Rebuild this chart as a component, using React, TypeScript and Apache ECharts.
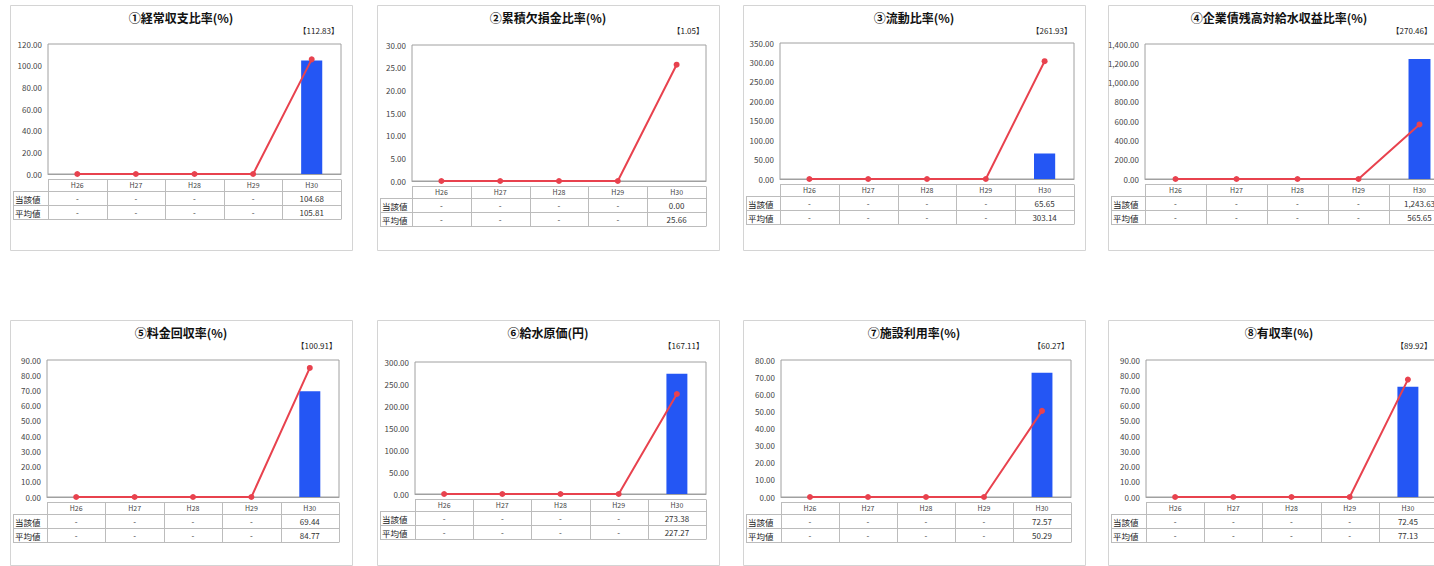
import React, { useEffect, useRef } from "react";
import * as echarts from "echarts";

// ---------- data ----------
const categories = ["H26", "H27", "H28", "H29", "H30"];
const rowLabels = ["当該値", "平均値"];
const titles = [
  "①経常収支比率(%)",
  "②累積欠損金比率(%)",
  "③流動比率(%)",
  "④企業債残高対給水収益比率(%)",
  "⑤料金回収率(%)",
  "⑥給水原価(円)",
  "⑦施設利用率(%)",
  "⑧有収率(%)",
];
const nationalAverages = ["【112.83】", "【1.05】", "【261.93】", "【270.46】", "【100.91】", "【167.11】", "【60.27】", "【89.92】"];

const current1 = [null, null, null, null, 104.68];
const average1 = [null, null, null, null, 105.81];
const current2 = [null, null, null, null, 0.0];
const average2 = [null, null, null, null, 25.66];
const current3 = [null, null, null, null, 65.65];
const average3 = [null, null, null, null, 303.14];
const current4 = [null, null, null, null, 1243.63];
const average4 = [null, null, null, null, 565.65];
const current5 = [null, null, null, null, 69.44];
const average5 = [null, null, null, null, 84.77];
const current6 = [null, null, null, null, 273.38];
const average6 = [null, null, null, null, 227.27];
const current7 = [null, null, null, null, 72.57];
const average7 = [null, null, null, null, 50.29];
const current8 = [null, null, null, null, 72.45];
const average8 = [null, null, null, null, 77.13];

const axisMax = [120, 30, 350, 1400, 90, 300, 80, 90];
const axisInterval = [20, 5, 50, 200, 10, 50, 10, 10];

const currents = [current1, current2, current3, current4, current5, current6, current7, current8];
const averages = [average1, average2, average3, average4, average5, average6, average7, average8];

// ---------- layout (absolute px) ----------
const layouts = [
  { px: 10, py: 5, gl: 48, gr: 341, gt: 44, gz: 174 },
  { px: 377, py: 5, gl: 412, gr: 706, gt: 45, gz: 181 },
  { px: 743, py: 5, gl: 780, gr: 1074, gt: 43, gz: 179 },
  { px: 1108, py: 5, gl: 1145, gr: 1450, gt: 44, gz: 179 },
  { px: 10, py: 320, gl: 47, gr: 339, gt: 360, gz: 497 },
  { px: 377, py: 320, gl: 415, gr: 706, gt: 362, gz: 494 },
  { px: 743, py: 320, gl: 781, gr: 1071, gt: 360, gz: 497 },
  { px: 1108, py: 320, gl: 1146, gr: 1437, gt: 360, gz: 497 },
];
const PAGE_W = 1434;
const PANEL_W = 342;
const PANEL_H = 245;
const FONT = '"Noto Sans CJK JP", "Noto Sans", sans-serif';
const BAR_COLOR = "#2456F4";
const LINE_COLOR = "#E8424E";

const fmt = (v: number | null) =>
  v === null || v === undefined
    ? "-"
    : v.toLocaleString("en-US", { minimumFractionDigits: 2, maximumFractionDigits: 2 });

function txt(x: number, y: number, text: string, size: number, align: string, opts: any = {}) {
  return {
    type: "text",
    x,
    y,
    silent: true,
    z: 10,
    style: {
      text,
      fill: opts.fill || "#333",
      fontSize: size,
      fontFamily: FONT,
      fontWeight: opts.bold ? "bold" : "normal",
      align,
      verticalAlign: "middle",
      textAlign: align,
      textVerticalAlign: "middle",
    },
  };
}

function line(x1: number, y1: number, x2: number, y2: number, color = "#bcbcbc") {
  return {
    type: "line",
    silent: true,
    z: 5,
    shape: { x1, y1, x2, y2 },
    style: { stroke: color, lineWidth: 1 },
  };
}

export default function App() {
  const ref = useRef<HTMLDivElement>(null);

  useEffect(() => {
    if (!ref.current) return;
    const chart = echarts.init(ref.current, undefined, { renderer: "svg" });

    const grids: any[] = [];
    const xAxes: any[] = [];
    const yAxes: any[] = [];
    const series: any[] = [];
    const graphics: any[] = [];

    layouts.forEach((L, i) => {
      grids.push({
        left: L.gl,
        top: L.gt,
        width: L.gr - L.gl,
        height: L.gz - L.gt,
        containLabel: false,
        outerBoundsMode: "none",
        show: true,
        borderColor: "#a0a0a0",
        borderWidth: 1,
        backgroundColor: "#ffffff",
        z: 1,
      });
      xAxes.push({
        type: "category",
        gridIndex: i,
        data: categories,
        boundaryGap: true,
        axisLine: { show: true, lineStyle: { color: "#a0a0a0" } },
        axisTick: { show: false },
        axisLabel: { show: true, fontSize: 7, color: "#444", margin: 7, fontFamily: FONT },
        splitLine: { show: false },
      });
      yAxes.push({
        type: "value",
        gridIndex: i,
        min: 0,
        max: axisMax[i],
        interval: axisInterval[i],
        axisLine: { show: false },
        axisTick: { show: false },
        axisLabel: { fontSize: 8, color: "#444", margin: 6, fontFamily: FONT, formatter: (v: number) => fmt(v) },
        splitLine: { show: true, lineStyle: { color: "#c4c4c4", width: 1 } },
      });
      series.push({
        type: "bar",
        xAxisIndex: i,
        yAxisIndex: i,
        data: currents[i],
        barWidth: "36%",
        itemStyle: { color: BAR_COLOR },
        z: 2,
      });
      series.push({
        type: "line",
        xAxisIndex: i,
        yAxisIndex: i,
        data: averages[i].map((v) => (v === null ? 0 : v)),
        symbol: "circle",
        symbolSize: 6,
        showSymbol: true,
        lineStyle: { color: LINE_COLOR, width: 2 },
        itemStyle: { color: LINE_COLOR },
        z: 3,
      });

      // panel frame
      graphics.push({
        type: "rect",
        silent: true,
        z: 0,
        shape: { x: L.px + 0.5, y: L.py + 0.5, width: PANEL_W, height: PANEL_H },
        style: { fill: "none", stroke: "#d4d4d4", lineWidth: 1 },
      });
      // title
      graphics.push(txt(L.px + PANEL_W / 2, L.py + 12, titles[i], 12, "center", { bold: true, fill: "#111" }));
      // national average bracket
      graphics.push(txt(Math.min(L.gr - 2, PAGE_W - 2), L.py + 25, nationalAverages[i], 8, "right", { fill: "#222" }));

      // data table
      const z0 = L.gz;
      const labelLeft = L.px + 3;
      const yTop = z0 + 5.5;
      const yL1 = z0 + 17.5;
      const yL2 = z0 + 31.5;
      const yBot = z0 + 45.5;
      const colW = (L.gr - L.gl) / categories.length;
      graphics.push(line(L.gl, yTop, L.gr, yTop));
      graphics.push(line(labelLeft, yL1, L.gr, yL1));
      graphics.push(line(labelLeft, yL2, L.gr, yL2));
      graphics.push(line(labelLeft, yBot, L.gr, yBot));
      graphics.push(line(labelLeft + 0.5, yL1, labelLeft + 0.5, yBot));
      for (let c = 0; c <= categories.length; c++) {
        const x = Math.round(L.gl + c * colW) + 0.5;
        graphics.push(line(x, yTop, x, yBot));
      }
      graphics.push(txt(labelLeft + 2, z0 + 24.5, rowLabels[0], 8.5, "left", { fill: "#222" }));
      graphics.push(txt(labelLeft + 2, z0 + 38.5, rowLabels[1], 8.5, "left", { fill: "#222" }));
      categories.forEach((_, c) => {
        const cx = L.gl + (c + 0.5) * colW;
        graphics.push(txt(cx, z0 + 24.5, fmt(currents[i][c]), 8, "center"));
        graphics.push(txt(cx, z0 + 38.5, fmt(averages[i][c]), 8, "center"));
      });
    });

    chart.setOption({
      animation: false,
      backgroundColor: "#ffffff",
      textStyle: { fontFamily: FONT },
      grid: grids,
      xAxis: xAxes,
      yAxis: yAxes,
      series,
      graphic: { elements: graphics },
    });

    return () => chart.dispose();
  }, []);

  return (
    <div
      ref={ref}
      style={{ position: "absolute", left: 0, top: 0, width: 1434, height: 566, background: "#fff" }}
    />
  );
}
